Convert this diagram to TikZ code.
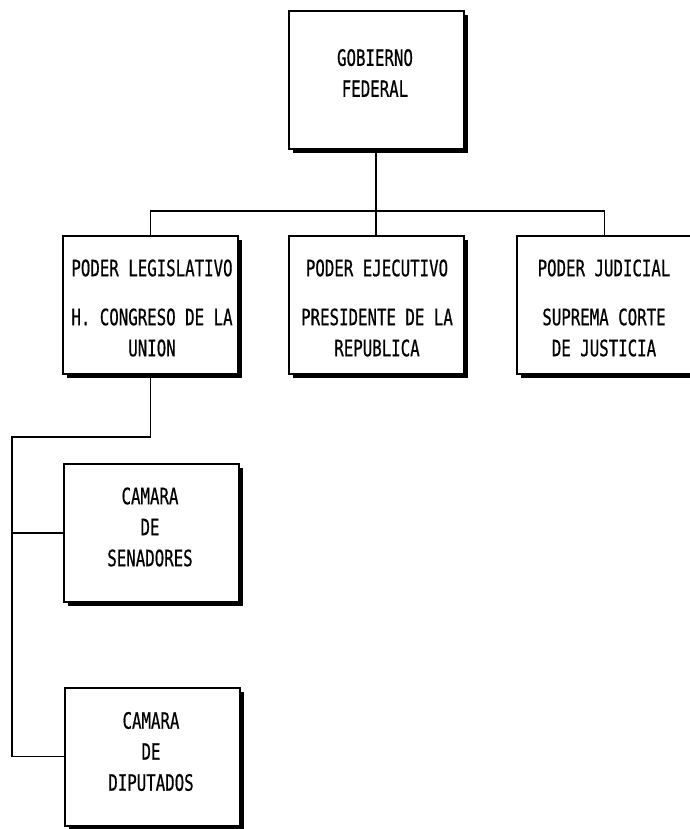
\documentclass[tikz,border=0pt]{standalone}
\usepackage{fontspec}
\setmainfont[FakeStretch=0.70,FakeBold=0.6]{DejaVu Sans Mono}
\usetikzlibrary{shadows}
\begin{document}
\begin{tikzpicture}[x=1pt,y=-1pt,
  orgbox/.style={draw, line width=2pt, fill=white, minimum width=175pt,
    minimum height=138pt, inner sep=0pt,
    general shadow={fill=black, shadow xshift=4pt, shadow yshift=-4pt}},
  label/.style={align=center, inner sep=0pt, font=\fontsize{22.5}{31}\selectfont},
  link/.style={line width=1.4pt}]
\useasboundingbox (0,0) rectangle (689,829);

% boxes
\node[orgbox] (gob) at (376,80.5) {};
\node[orgbox] (leg) at (150.5,305) {};
\node[orgbox] (eje) at (376,305) {};
\node[orgbox] (jud) at (604.5,305) {};
\node[orgbox] (sen) at (151.5,533) {};
\node[orgbox] (dip) at (152.5,756.5) {};

% box texts
\node[label] (gobt) at (375,73) {GOBIERNO\\FEDERAL};
\node[label] (legt) at (152,308) {PODER LEGISLATIVO\\[18pt]H. CONGRESO DE LA\\UNION};
\node[label] (ejet) at (377,308) {PODER EJECUTIVO\\[18pt]PRESIDENTE DE LA\\REPUBLICA};
\node[label] (judt) at (604,308) {PODER JUDICIAL\\[18pt]SUPREMA CORTE\\DE JUSTICIA};
\node[label] (sent) at (150,527) {CAMARA\\DE\\SENADORES};
\node[label] (dipt) at (151,751.5) {CAMARA\\DE\\DIPUTADOS};

% connectors
\coordinate (bus) at (0,211);
\coordinate (trunk) at (12,437);
\draw[link] (gob.south) -- (gob.south |- bus);
\draw[link] (leg.north) -- (leg.north |- bus) -| (jud.north);
\draw[link] (eje.north) -- (eje.north |- bus);
\draw[link] (leg.south) |- (trunk) |- (dip.west);
\draw[link] (trunk |- sen.west) -- (sen.west);
\end{tikzpicture}
\end{document}
